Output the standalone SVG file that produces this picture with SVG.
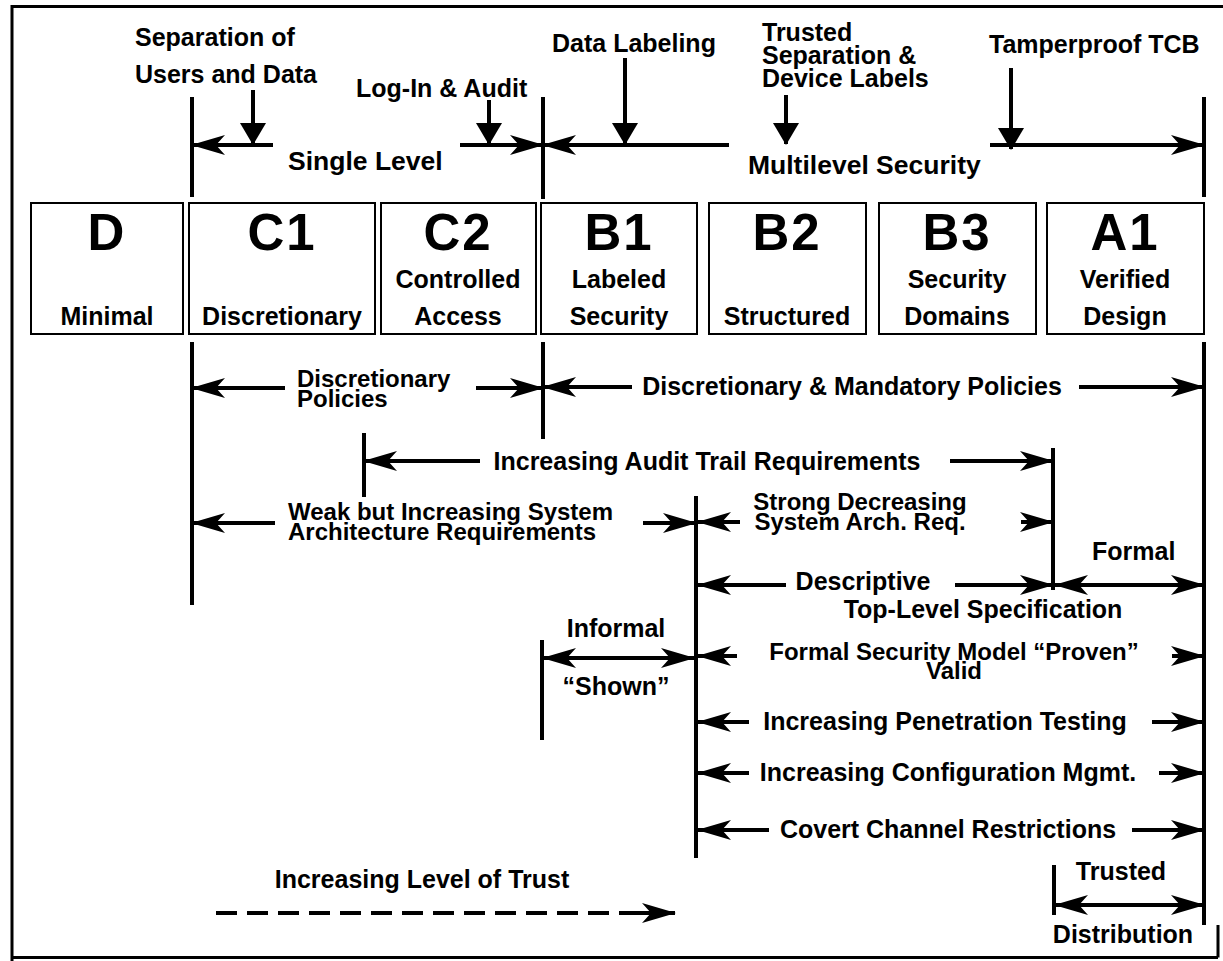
<svg xmlns="http://www.w3.org/2000/svg" width="1223" height="961" viewBox="0 0 1223 961">
<defs>
<style>
text{font-family:"Liberation Sans",Arial,Helvetica,sans-serif;font-weight:bold;fill:#000}
.t{font-size:25px}
.t2{font-size:24px}
.big{font-size:26.5px}
.lv{font-size:51px;text-anchor:middle;letter-spacing:2px}
.sub{font-size:25px;text-anchor:middle}
.m{text-anchor:middle}
.box{fill:#fff;stroke:#000;stroke-width:2}
.ln{stroke:#000;stroke-width:4;fill:none}
.ar{stroke:#000;stroke-width:4;fill:none;marker-end:url(#ah)}
.ar2{stroke:#000;stroke-width:4;fill:none;marker-end:url(#ah);marker-start:url(#ah)}
.dn{stroke:#000;stroke-width:4;fill:none;marker-end:url(#tri)}
</style>
<marker id="ah" markerUnits="userSpaceOnUse" markerWidth="34" markerHeight="22" viewBox="0 0 34 22" refX="33" refY="11" orient="auto-start-reverse">
<path d="M0,1 L34,11 L0,21 L9,11 z" fill="#000"/>
</marker>
<marker id="tri" markerUnits="userSpaceOnUse" markerWidth="22" markerHeight="26" viewBox="0 0 22 26" refX="21" refY="13" orient="auto">
<path d="M0,0 L22,13 L0,26 z" fill="#000"/>
</marker>
</defs>
<rect x="0" y="0" width="1223" height="961" fill="#fff"/>
<path id="frame" d="M12,961 V6.5 H1223 M12,957.5 H1218 M1218,925 V957.5" fill="none" stroke="#000" stroke-width="3"/>

<g id="level-D"><rect class="box" x="31" y="203" width="152" height="131"/><text class="lv" x="107" y="250">D</text><text class="sub" x="107" y="325">Minimal</text></g>
<g id="level-C1"><rect class="box" x="189" y="203" width="186" height="131"/><text class="lv" x="282" y="250">C1</text><text class="sub" x="282" y="325">Discretionary</text></g>
<g id="level-C2"><rect class="box" x="381" y="203" width="155" height="131"/><text class="lv" x="458" y="250">C2</text><text class="sub" x="458" y="288">Controlled</text><text class="sub" x="458" y="325">Access</text></g>
<g id="level-B1"><rect class="box" x="541" y="203" width="156" height="131"/><text class="lv" x="619" y="250">B1</text><text class="sub" x="619" y="288">Labeled</text><text class="sub" x="619" y="325">Security</text></g>
<g id="level-B2"><rect class="box" x="709" y="203" width="157" height="131"/><text class="lv" x="787" y="250">B2</text><text class="sub" x="787" y="325">Structured</text></g>
<g id="level-B3"><rect class="box" x="879" y="203" width="157" height="131"/><text class="lv" x="957" y="250">B3</text><text class="sub" x="957" y="288">Security</text><text class="sub" x="957" y="325">Domains</text></g>
<g id="level-A1"><rect class="box" x="1047" y="203" width="157" height="131"/><text class="lv" x="1125" y="250">A1</text><text class="sub" x="1125" y="288">Verified</text><text class="sub" x="1125" y="325">Design</text></g>

<g id="connectors">
<line class="ln" x1="192" y1="97" x2="192" y2="197"/>
<line class="ln" x1="543" y1="97" x2="543" y2="199"/>
<line class="ln" x1="1204" y1="97" x2="1204" y2="197"/>
<line class="ar" x1="273" y1="145" x2="192" y2="145"/>
<line class="ar" x1="460" y1="145" x2="543" y2="145"/>
<line class="ar" x1="729" y1="145" x2="543" y2="145"/>
<line class="ar" x1="990" y1="145" x2="1204" y2="145"/>
<line class="dn" x1="253" y1="90" x2="253" y2="144"/>
<line class="dn" x1="489" y1="100" x2="489" y2="144"/>
<line class="dn" x1="625" y1="58" x2="625" y2="144"/>
<line class="dn" x1="786" y1="95" x2="786" y2="144"/>
<line class="dn" x1="1011" y1="68" x2="1011" y2="149"/>

<line class="ln" x1="192" y1="342" x2="192" y2="605"/>
<line class="ln" x1="543" y1="342" x2="543" y2="439"/>
<line class="ln" x1="1204" y1="342" x2="1204" y2="925"/>
<line class="ln" x1="364" y1="433" x2="364" y2="497"/>
<line class="ln" x1="1053" y1="448" x2="1053" y2="590"/>
<line class="ln" x1="696" y1="496" x2="696" y2="858"/>
<line class="ln" x1="542" y1="640" x2="542" y2="740"/>
<line class="ln" x1="1054" y1="865" x2="1054" y2="915"/>

<line class="ar" x1="285" y1="388" x2="192" y2="388"/>
<line class="ar" x1="476" y1="388" x2="543" y2="388"/>
<line class="ar" x1="632" y1="387" x2="543" y2="387"/>
<line class="ar" x1="1079" y1="387" x2="1204" y2="387"/>
<line class="ar" x1="480" y1="461" x2="364" y2="461"/>
<line class="ar" x1="950" y1="461" x2="1053" y2="461"/>
<line class="ar" x1="275" y1="523" x2="192" y2="523"/>
<line class="ar" x1="643" y1="523" x2="696" y2="523"/>
<line class="ar" x1="740" y1="522" x2="698" y2="522"/>
<line class="ar" x1="1021" y1="522" x2="1053" y2="522"/>
<line class="ar" x1="786" y1="585" x2="698" y2="585"/>
<line class="ar" x1="955" y1="585" x2="1053" y2="585"/>
<line class="ar2" x1="1055" y1="585" x2="1204" y2="585"/>
<line class="ar2" x1="543" y1="658" x2="694" y2="658"/>
<line class="ar" x1="737" y1="656" x2="698" y2="656"/>
<line class="ar" x1="1172" y1="656" x2="1204" y2="656"/>
<line class="ar" x1="749" y1="722" x2="698" y2="722"/>
<line class="ar" x1="1152" y1="722" x2="1204" y2="722"/>
<line class="ar" x1="749" y1="773" x2="698" y2="773"/>
<line class="ar" x1="1159" y1="773" x2="1204" y2="773"/>
<line class="ar" x1="769" y1="830" x2="698" y2="830"/>
<line class="ar" x1="1132" y1="830" x2="1204" y2="830"/>
<line class="ar2" x1="1055" y1="905" x2="1204" y2="905"/>
<line class="ln" x1="216" y1="913" x2="645" y2="913" stroke-width="5" stroke-dasharray="21 10"/>
<line class="ar" x1="640" y1="913" x2="675" y2="913"/>
</g>

<g id="labels">
<text class="t" x="135" y="46">Separation of</text>
<text class="t" x="135" y="83">Users and Data</text>
<text class="t" x="356" y="97">Log-In &amp; Audit</text>
<text class="big" x="288" y="170">Single Level</text>
<text class="t" x="552" y="52">Data Labeling</text>
<text class="t" x="762" y="41">Trusted</text>
<text class="t" x="762" y="64">Separation &amp;</text>
<text class="t" x="762" y="87">Device Labels</text>
<text class="t" x="989" y="53">Tamperproof TCB</text>
<text class="big" x="748" y="174">Multilevel Security</text>

<text class="t2" x="297" y="387">Discretionary</text>
<text class="t2" x="297" y="407">Policies</text>
<text class="t m" x="852" y="395">Discretionary &amp; Mandatory Policies</text>
<text class="t m" x="707" y="470">Increasing Audit Trail Requirements</text>
<text class="t2" x="288" y="520">Weak but Increasing System</text>
<text class="t2" x="288" y="540">Architecture Requirements</text>
<text class="t2 m" x="860" y="510">Strong Decreasing</text>
<text class="t2 m" x="860" y="530">System Arch. Req.</text>
<text class="t" x="1092" y="560">Formal</text>
<text class="t m" x="863" y="590">Descriptive</text>
<text class="t m" x="983" y="618">Top-Level Specification</text>
<text class="t m" x="616" y="637">Informal</text>
<text class="t m" x="616" y="695">“Shown”</text>
<text class="t2 m" x="954" y="660">Formal Security Model “Proven”</text>
<text class="t2 m" x="954" y="679">Valid</text>
<text class="t m" x="945" y="730">Increasing Penetration Testing</text>
<text class="t m" x="948" y="781">Increasing Configuration Mgmt.</text>
<text class="t m" x="948" y="838">Covert Channel Restrictions</text>
<text class="t m" x="1121" y="880">Trusted</text>
<text class="t m" x="1123" y="943">Distribution</text>
<text class="t m" x="422" y="888">Increasing Level of Trust</text>
</g>
</svg>
